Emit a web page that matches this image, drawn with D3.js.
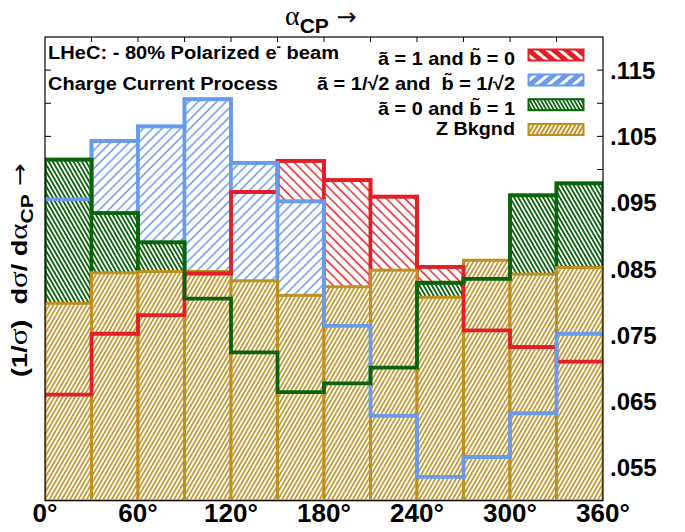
<!DOCTYPE html>
<html><head><meta charset="utf-8">
<script src="https://cdn.jsdelivr.net/npm/d3@7"></script>
<style>body{margin:0;background:#fff} svg{display:block} text{white-space:pre}</style>
</head><body>
<svg id="c" width="685" height="532"></svg>
<script>
// ---- data ----
const binStarts = [0, 30, 60, 90, 120, 150, 180, 210, 240, 270, 300, 330];
const binWidth = 30;
const redVals   = [0.0660, 0.0752, 0.0780, 0.0843, 0.0966, 0.1013, 0.0984, 0.0959, 0.0853, 0.0757, 0.0732, 0.0710];
const blueVals  = [0.0955, 0.1043, 0.1065, 0.1106, 0.1010, 0.0952, 0.0764, 0.0628, 0.0536, 0.0566, 0.0632, 0.0752];
const greenVals = [0.1015, 0.0934, 0.0890, 0.0805, 0.0724, 0.0664, 0.0677, 0.0701, 0.0829, 0.0835, 0.0961, 0.0979];
const goldVals  = [0.0798, 0.0844, 0.0846, 0.0846, 0.0832, 0.0810, 0.0823, 0.0848, 0.0807, 0.0863, 0.0842, 0.0852];
const seriesLabels = ["a\u0303 = 1 and b\u0303 = 0", "a\u0303 = 1/\u221A2 and  b\u0303 = 1/\u221A2", "a\u0303 = 0 and b\u0303 = 1", "Z Bkgnd"];
const xTickValues = [0, 60, 120, 180, 240, 300, 360];
const xTickLabels = ["0°", "60°", "120°", "180°", "240°", "300°", "360°"];
const xMinorTicks = [30, 60, 90, 120, 150, 180, 210, 240, 270, 300, 330];
const yTickValues = [0.055, 0.065, 0.075, 0.085, 0.095, 0.105, 0.115];
const yTickLabels = [".055", ".065", ".075", ".085", ".095", ".105", ".115"];
const yMinorTicks = [0.055, 0.060, 0.065, 0.070, 0.075, 0.080, 0.085, 0.090, 0.095, 0.100, 0.105, 0.110, 0.115];

// ---- styles ----
const C = {red: "#e31e25", blue: "#6a9bea", green: "#0a640c", gold: "#bf9021"};
const SANS = "'Liberation Sans', Arial, sans-serif";
const SERIF = "'Liberation Serif', 'DejaVu Serif', serif";

const svg = d3.select("#c");
const L = 45, R = 603, T = 37, B = 500.7;
const x = d3.scaleLinear().domain([0, 360]).range([L, R]);
const y = d3.scaleLinear().domain([0.05, 0.12]).range([B, T]);

const defs = svg.append("defs");
function hatch(id, fg, bg, angle, period, lw) {
  const p = defs.append("pattern").attr("id", id).attr("patternUnits", "userSpaceOnUse")
    .attr("width", period).attr("height", period).attr("patternTransform", `rotate(${angle})`);
  p.append("rect").attr("width", period).attr("height", period).attr("fill", bg);
  p.append("rect").attr("x", 0).attr("y", 0).attr("width", lw).attr("height", period).attr("fill", fg);
}
hatch("pRed", C.red, "#fff", -45, 6.6, 1.4);
hatch("pBlue", C.blue, "#fff", 45, 6.6, 1.5);
hatch("pGreen", C.green, "#fff", -30, 3.6, 1.8);
hatch("pGold", C.gold, "#fff", 30, 3.6, 1.6);
hatch("lRed", "#fff", C.red, -50, 8, 3);
hatch("lBlue", "#fff", C.blue, 50, 8, 3);
hatch("lGreen", "#fff", C.green, -30, 3.2, 1.4);
hatch("lGold", "#fff", C.gold, 30, 3.6, 1.6);

defs.append("clipPath").attr("id", "clip").append("rect")
  .attr("x", L).attr("y", T).attr("width", R - L).attr("height", B - T);

const series = [
  {vals: redVals, color: C.red, pat: "pRed", leg: "lRed"},
  {vals: blueVals, color: C.blue, pat: "pBlue", leg: "lBlue"},
  {vals: greenVals, color: C.green, pat: "pGreen", leg: "lGreen"},
  {vals: goldVals, color: C.gold, pat: "pGold", leg: "lGold"}
];

// ticks (under fills)
const tk = svg.append("g").attr("stroke", "#000").attr("stroke-width", 1);
tk.selectAll(".tx").data(xMinorTicks).join("line")
  .attr("x1", d => x(d)).attr("x2", d => x(d)).attr("y1", T).attr("y2", T + 5);
tk.selectAll(".tyl").data(yMinorTicks).join("line").attr("class", "tyl")
  .attr("x1", L).attr("x2", L + 6).attr("y1", d => y(d)).attr("y2", d => y(d));
tk.selectAll(".tyr").data(yMinorTicks).join("line").attr("class", "tyr")
  .attr("x1", R - 6).attr("x2", R).attr("y1", d => y(d)).attr("y2", d => y(d));

const plot = svg.append("g").attr("clip-path", "url(#clip)");
// fills with bar outlines
series.forEach((s, si) => {
  plot.append("g").selectAll("rect").data(s.vals).join("rect")
    .attr("x", (d, i) => x(binStarts[i]))
    .attr("width", (d, i) => x(binStarts[i] + binWidth) - x(binStarts[i]))
    .attr("y", d => y(d))
    .attr("height", d => y(0.05) - y(d))
    .attr("fill", `url(#${s.pat})`)
    .attr("stroke", s.color)
    .attr("stroke-width", si === 3 ? 3 : 3.5);
});
// step outlines on top
const step = d3.line().x(d => x(d[0])).y(d => y(d[1])).curve(d3.curveStepAfter);
series.slice(0, 3).forEach(s => {
  const pts = s.vals.map((v, i) => [binStarts[i], v]);
  pts.push([360, s.vals[s.vals.length - 1]]);
  plot.append("path").attr("d", step(pts)).attr("fill", "none")
    .attr("stroke", s.color).attr("stroke-width", 3.8);
});

// frame
svg.append("rect").attr("x", L).attr("y", T).attr("width", R - L).attr("height", B - T)
  .attr("fill", "none").attr("stroke", "#000").attr("stroke-width", 1.2);

// axis labels
svg.append("g").selectAll("text").data(xTickValues).join("text")
  .attr("x", d => x(d)).attr("y", 522).attr("text-anchor", "middle")
  .attr("font-family", SANS).attr("font-weight", "bold").attr("font-size", 26)
  .text((d, i) => xTickLabels[i]);
svg.append("g").selectAll("text").data(yTickValues).join("text")
  .attr("x", 610).attr("y", d => y(d) + 8.8)
  .attr("font-family", SANS).attr("font-weight", "bold").attr("font-size", 24)
  .text((d, i) => yTickLabels[i]);

// title
const tt = svg.append("text").attr("x", 285).attr("y", 25).attr("font-family", SANS);
tt.append("tspan").attr("font-family", SERIF).attr("font-size", 28).text("α");
tt.append("tspan").attr("font-weight", "bold").attr("font-size", 21).attr("dy", 8).text("CP");
tt.append("tspan").attr("font-family", "'DejaVu Sans', sans-serif").attr("font-size", 24).attr("dy", -8).text(" →");

// y title
const yt = svg.append("text").attr("transform", "translate(27,377) rotate(-90)")
  .attr("font-family", SANS).attr("font-weight", "bold").attr("font-size", 22)
  .attr("textLength", 214).attr("lengthAdjust", "spacingAndGlyphs");
yt.append("tspan").text("(1/");
yt.append("tspan").attr("font-family", SERIF).attr("font-weight", "normal").attr("font-size", 25).text("σ");
yt.append("tspan").text(")  d");
yt.append("tspan").attr("font-family", SERIF).attr("font-weight", "normal").attr("font-size", 25).text("σ");
yt.append("tspan").text("/ d");
yt.append("tspan").attr("font-family", SERIF).attr("font-weight", "normal").attr("font-size", 25).text("α");
yt.append("tspan").attr("font-size", 17).attr("dy", 6).text("CP");
yt.append("tspan").attr("font-family", "'DejaVu Sans', sans-serif").attr("font-weight", "normal").attr("dy", -6).text(" →");

// annotations
const a1 = svg.append("text").attr("x", 48).attr("y", 59)
  .attr("font-family", SANS).attr("font-weight", "bold").attr("font-size", 18)
  .attr("textLength", 291).attr("lengthAdjust", "spacingAndGlyphs");
a1.append("tspan").text("LHeC: - 80% Polarized e");
a1.append("tspan").attr("font-size", 12).attr("dy", -8).text("-");
a1.append("tspan").attr("dy", 8).text(" beam");
svg.append("text").attr("x", 48).attr("y", 89.5)
  .attr("font-family", SANS).attr("font-weight", "bold").attr("font-size", 18)
  .attr("textLength", 230).attr("lengthAdjust", "spacingAndGlyphs")
  .text("Charge Current Process");

// legend
const legY = [65, 89.5, 114.5, 135];
const legW = [137, 198, 137, 79];
const swY = [55, 80, 104.7, 129.5];
series.forEach((s, i) => {
  svg.append("text").attr("x", 515 - legW[i]).attr("y", legY[i])
    .attr("font-family", SANS).attr("font-weight", "bold").attr("font-size", 19)
    .attr("textLength", legW[i]).attr("lengthAdjust", "spacingAndGlyphs")
    .text(seriesLabels[i]);
  svg.append("rect").attr("x", 528.5).attr("y", swY[i] - 5.5).attr("width", 55).attr("height", 11)
    .attr("fill", `url(#${s.leg})`).attr("stroke", s.color).attr("stroke-width", 2);
});
</script>
</body></html>
